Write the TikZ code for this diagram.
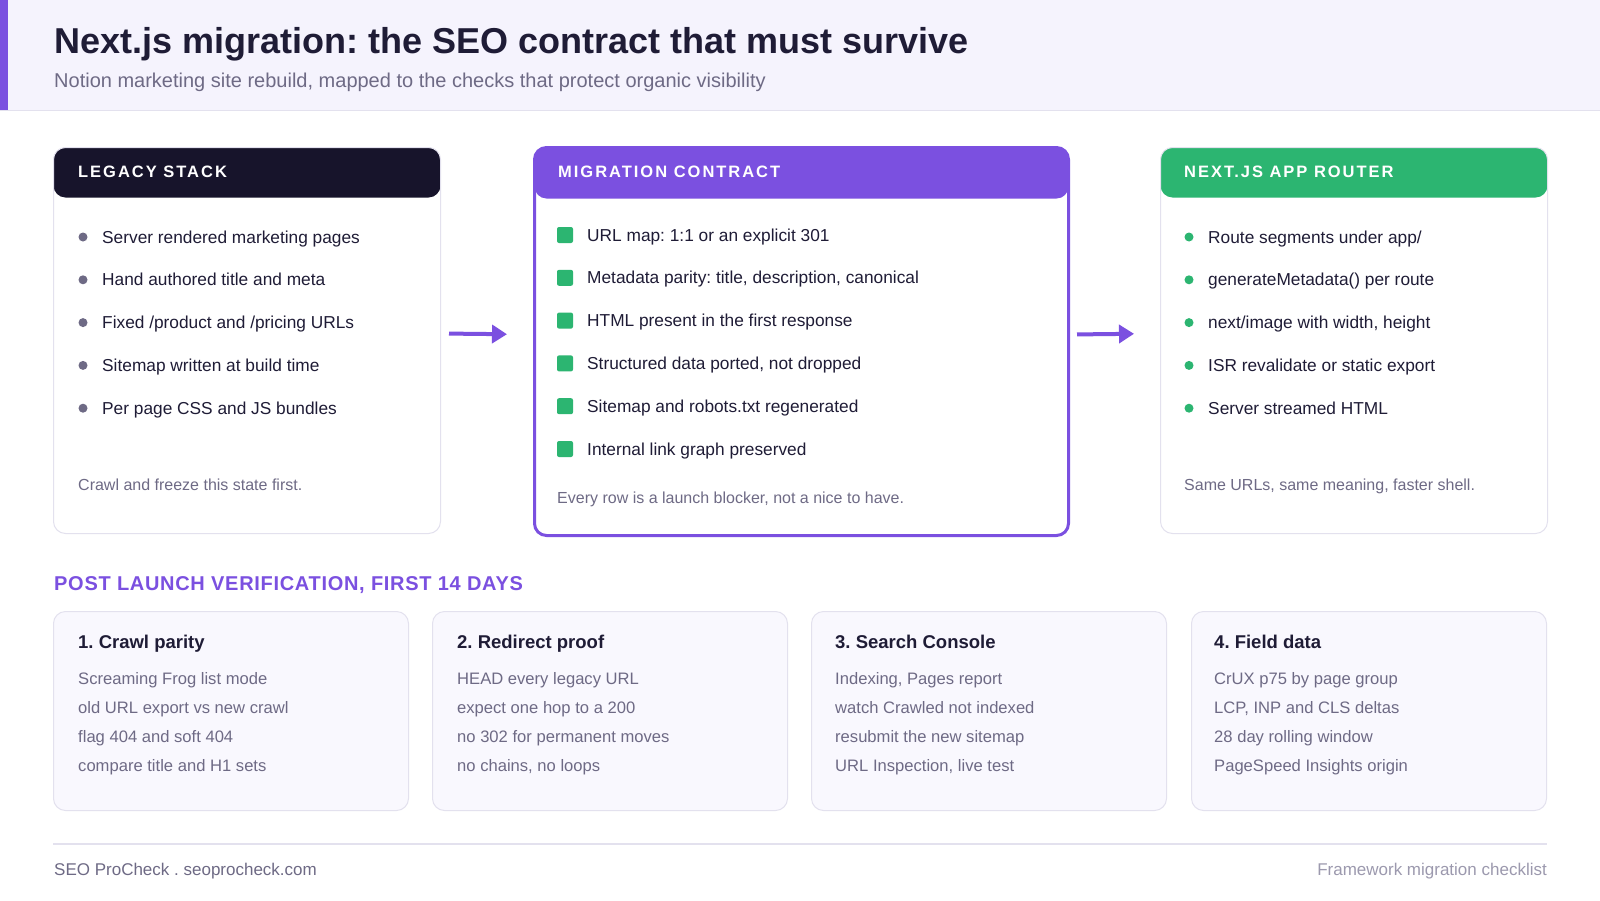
\documentclass[tikz,border=0pt]{standalone}
\usepackage{fontspec}
\setmainfont{Liberation Sans}
\usetikzlibrary{arrows.meta}
\frenchspacing
\definecolor{headbg}{HTML}{F5F3FD}
\definecolor{accent}{HTML}{7B50E0}
\definecolor{darkhd}{HTML}{17142B}
\definecolor{okgreen}{HTML}{2CB571}
\definecolor{ink}{HTML}{1F1C36}
\definecolor{muted}{HTML}{6E6A85}
\definecolor{faint}{HTML}{9C99AE}
\definecolor{edge}{HTML}{E3E1EE}
\definecolor{cardbg}{HTML}{F9F8FE}
\tikzset{
  card/.style={rounded corners=12pt, fill=white, draw=edge, line width=1pt, anchor=north west, inner sep=0pt},
  hdrtxt/.style={anchor=west, inner sep=0pt, text=white, font=\fontsize{16.5}{19}\selectfont\bfseries\addfontfeature{LetterSpace=12}},
  item/.style={anchor=base west, inner sep=0pt, text=ink, font=\fontsize{17.3}{20}\selectfont},
  note/.style={anchor=base west, inner sep=0pt, text=muted, font=\fontsize{16}{18}\selectfont},
  dotmark/.style={circle, inner sep=0pt, minimum size=9pt, fill=#1},
  sqmark/.style={rectangle, rounded corners=2pt, inner sep=0pt, minimum size=16pt, fill=okgreen},
  flow/.style={line width=4pt, draw=accent, -{Triangle[length=15pt,width=18pt]}},
  vcard/.style={rounded corners=12pt, fill=cardbg, draw=edge, line width=1pt, anchor=north west, inner sep=0pt, minimum width=355pt, minimum height=199pt},
  vtitle/.style={anchor=base west, inner sep=0pt, text=ink, font=\fontsize{18.5}{22}\selectfont\bfseries},
  vline/.style={anchor=base west, inner sep=0pt, text=muted, font=\fontsize{16.6}{19}\selectfont},
}
\begin{document}
\begin{tikzpicture}[x=1pt,y=-1pt]
\useasboundingbox (0,0) rectangle (1600,900);
\fill[white] (0,0) rectangle (1600,900);
% header band
\fill[headbg] (0,0) rectangle (1600,110);
\draw[edge, line width=1pt] (0,110) -- (1600,110);
\fill[accent] (0,0) rectangle (8,110);
\node[anchor=base west, inner sep=0pt, text=ink, font=\fontsize{36}{40}\selectfont\bfseries] (title) at (54,53) {Next.js migration: the SEO contract that must survive};
\node[anchor=base west, inner sep=0pt, text=muted, font=\fontsize{20}{24}\selectfont] (subtitle) at (54,87) {Notion marketing site rebuild, mapped to the checks that protect organic visibility};

% legacy card
\node[card, minimum width=387pt, minimum height=386pt,
  path picture={\fill[darkhd] (path picture bounding box.north west) rectangle ([yshift=-50pt]path picture bounding box.north east);}] (legacy) at (53,147) {};
\node[hdrtxt] (legacyhd) at (78,172) {LEGACY STACK};
\foreach \t [count=\i] in {Server rendered marketing pages, Hand authored title and meta, Fixed /product and /pricing URLs, Sitemap written at build time, Per page CSS and JS bundles}{
  \node[dotmark=muted] (ld\i) at (83,237+42.8*\i-42.8) {};
  \node[item] (li\i) at (102,243+42.8*\i-42.8) {\t};
}
\node[note] (legacynote) at (78,490) {Crawl and freeze this state first.};

% contract card
\node[card, draw=accent, line width=3pt, minimum width=534pt, minimum height=388pt,
  path picture={\fill[accent] (path picture bounding box.north west) rectangle ([yshift=-51pt]path picture bounding box.north east);}] (contract) at (533,146) {};
\node[hdrtxt] (contracthd) at (558,172) {MIGRATION CONTRACT};
\foreach \t [count=\i] in {URL map: 1:1 or an explicit 301, {Metadata parity: title, description, canonical}, HTML present in the first response, {Structured data ported, not dropped}, Sitemap and robots.txt regenerated, Internal link graph preserved}{
  \node[sqmark] (cs\i) at (565,235+42.8*\i-42.8) {};
  \node[item] (ci\i) at (587,241+42.8*\i-42.8) {\t};
}
\node[note] (contractnote) at (557,503) {Every row is a launch blocker, not a nice to have.};

% next card
\node[card, minimum width=387pt, minimum height=386pt,
  path picture={\fill[okgreen] (path picture bounding box.north west) rectangle ([yshift=-50pt]path picture bounding box.north east);}] (nextjs) at (1160,147) {};
\node[hdrtxt] (nexthd) at (1184,172) {NEXT.JS APP ROUTER};
\foreach \t [count=\i] in {Route segments under app/, generateMetadata() per route, {next/image with width, height}, ISR revalidate or static export, Server streamed HTML}{
  \node[dotmark=okgreen] (nd\i) at (1189,237+42.8*\i-42.8) {};
  \node[item] (ni\i) at (1208,243+42.8*\i-42.8) {\t};
}
\node[note] (nextnote) at (1184,490) {Same URLs, same meaning, faster shell.};

% arrows
\draw[flow, shorten <=8pt, shorten >=26pt] ([yshift=7pt]legacy.east) -- ([yshift=7pt]contract.west);
\draw[flow, shorten <=7pt, shorten >=26pt] ([yshift=7pt]contract.east) -- ([yshift=7pt]nextjs.west);

% verification
\node[anchor=base west, inner sep=0pt, text=accent, font=\fontsize{20}{24}\selectfont\bfseries\addfontfeature{LetterSpace=3.5}] (vhead) at (54,590) {POST LAUNCH VERIFICATION, FIRST 14 DAYS};

\node[vcard] (v1) at (53,611) {};
\node[vcard] (v2) at (432,611) {};
\node[vcard] (v3) at (811,611) {};
\node[vcard] (v4) at (1191,611) {};

\node[vtitle] (v1t) at (78,648) {1. Crawl parity};
\node[vline] (v1a) at (78,684) {Screaming Frog list mode};
\node[vline] (v1b) at (78,713) {old URL export vs new crawl};
\node[vline] (v1c) at (78,742) {flag 404 and soft 404};
\node[vline] (v1d) at (78,771) {compare title and H1 sets};

\node[vtitle] (v2t) at (457,648) {2. Redirect proof};
\node[vline] (v2a) at (457,684) {HEAD every legacy URL};
\node[vline] (v2b) at (457,713) {expect one hop to a 200};
\node[vline] (v2c) at (457,742) {no 302 for permanent moves};
\node[vline] (v2d) at (457,771) {no chains, no loops};

\node[vtitle] (v3t) at (835,648) {3. Search Console};
\node[vline] (v3a) at (835,684) {Indexing, Pages report};
\node[vline] (v3b) at (835,713) {watch Crawled not indexed};
\node[vline] (v3c) at (835,742) {resubmit the new sitemap};
\node[vline] (v3d) at (835,771) {URL Inspection, live test};

\node[vtitle] (v4t) at (1214,648) {4. Field data};
\node[vline] (v4a) at (1214,684) {CrUX p75 by page group};
\node[vline] (v4b) at (1214,713) {LCP, INP and CLS deltas};
\node[vline] (v4c) at (1214,742) {28 day rolling window};
\node[vline] (v4d) at (1214,771) {PageSpeed Insights origin};

% footer
\draw[edge, line width=1.5pt] (53,844) -- (1547,844);
\node[anchor=base west, inner sep=0pt, text=muted, font=\fontsize{17}{20}\selectfont] (footl) at (54,875) {SEO ProCheck . seoprocheck.com};
\node[anchor=base east, inner sep=0pt, text=faint, font=\fontsize{17}{20}\selectfont] (footr) at (1547,875) {Framework migration checklist};
\end{tikzpicture}
\end{document}
